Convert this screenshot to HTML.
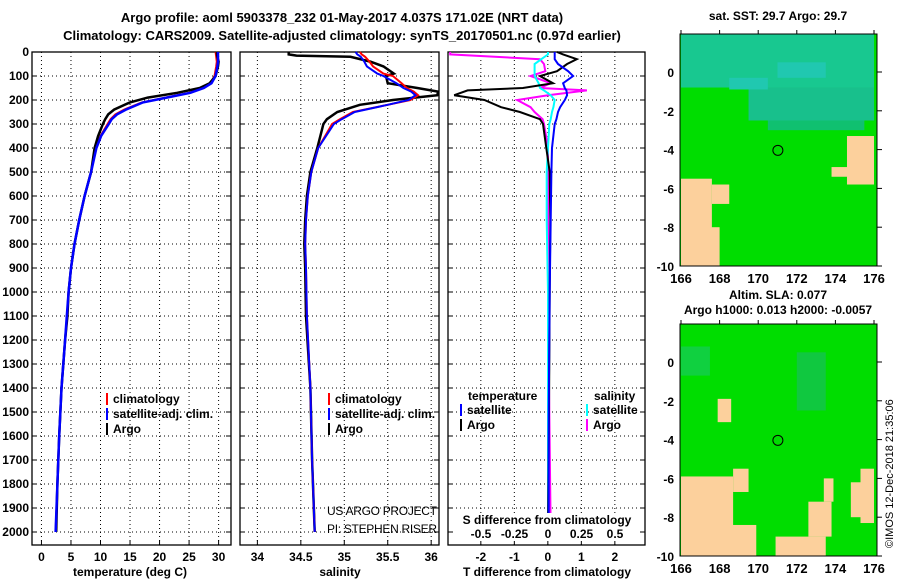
<!DOCTYPE html>
<html><head><meta charset="utf-8"><style>
body{margin:0;background:#fff}
svg{display:block;font-family:"Liberation Sans",sans-serif}
</style></head><body>
<svg id="c" width="900" height="580" viewBox="0 0 900 580">
<text x="342" y="22" text-anchor="middle" font-weight="bold" font-size="13">Argo profile: aoml 5903378_232 01-May-2017 4.037S 171.02E (NRT data)</text>
<text x="342" y="40" text-anchor="middle" font-weight="bold" font-size="13">Climatology: CARS2009. Satellite-adjusted climatology: synTS_20170501.nc (0.97d earlier)</text>
<g id="g"></g>
</svg>
<script>
// depth levels (dbar)
const depthT=[0,20,40,60,100,130,150,170,190,210,240,260,280,300,350,400,500,600,700,800,900,1000,1100,1200,1400,1600,1800,2000];
const tempArgo=[29.7,29.8,30.0,29.9,29.5,28.5,26.8,23,18,15,12.3,11.3,10.8,10.4,9.6,9.0,8.4,7.3,6.4,5.6,5.0,4.6,4.4,4.0,3.4,3.0,2.7,2.5];
const tempClim=[29.5,29.6,29.7,29.6,29.3,28.6,27.3,25,21,17,14,12.5,11.7,11.2,10.0,9.2,8.4,7.3,6.4,5.6,5.0,4.6,4.4,4.0,3.4,3.0,2.7,2.4];
const tempSat=[29.9,29.9,29.9,29.8,29.5,28.8,27.5,25.2,21.2,17.2,14.3,12.8,11.9,11.4,10.1,9.3,8.4,7.3,6.4,5.6,5.0,4.6,4.3,4.0,3.4,3.0,2.7,2.4];
const depthS=[0,10,15,20,40,60,90,100,130,150,165,180,200,220,250,280,300,400,500,600,700,800,900,1100,1400,1700,2000];
const salArgo=[34.36,34.36,34.45,35.07,35.3,35.45,35.57,35.48,35.5,35.84,36.08,36.07,35.56,35.18,34.92,34.8,34.76,34.69,34.61,34.57,34.55,34.54,34.55,34.56,34.61,34.63,34.66];
const salClim=[35.18,35.2,35.22,35.24,35.29,35.33,35.45,35.56,35.66,35.72,35.8,35.85,35.76,35.5,35.1,34.95,34.86,34.7,34.62,34.58,34.56,34.55,34.56,34.57,34.61,34.63,34.66];
const salSat=[35.13,35.15,35.17,35.19,35.23,35.26,35.38,35.45,35.6,35.68,35.77,35.82,35.74,35.5,35.12,34.97,34.88,34.7,34.62,34.58,34.56,34.55,34.56,34.57,34.61,34.63,34.66];
const depthD=[0,10,30,50,80,100,130,150,160,180,200,230,250,280,300,400,500,700,1000,1500,2000];
const dTArgo=[0.27,0.45,0.86,0.57,0.27,-0.24,0.15,-0.75,-2.4,-2.8,-1.9,-1.4,-0.84,-0.24,-0.15,-0.05,0.05,0.07,0.05,0.03,0.0];
const dTSat=[0.2,0.2,0.2,0.3,0.6,0.75,0.45,0.5,0.55,0.57,0.5,0.36,0.3,0.25,0.2,0.12,0.1,0.08,0.05,0.02,0.02];
const dSArgo=[-0.73,-0.73,-0.06,-0.03,-0.02,-0.13,0.02,-0.06,0.29,0.0,-0.23,-0.13,-0.1,-0.04,-0.03,0.0,0.0,0.0,0.0,0.01,0.02];
const dSSat=[0.0,0.0,-0.05,-0.1,-0.1,-0.1,-0.07,-0.06,-0.03,0.02,0.05,0.04,0.03,0.02,0.01,0.0,-0.01,-0.01,0.0,0.0,0.0];
const depthTicks=[0,100,200,300,400,500,600,700,800,900,1000,1100,1200,1300,1400,1500,1600,1700,1800,1900,2000];
const tTicks=[0,5,10,15,20,25,30];
const sTicks=[34,34.5,35,35.5,36];
const dTTicks=[-2,-1,0,1,2];
const dSTicks=[-0.5,-0.25,0,0.25,0.5];
const latTicks=[0,-2,-4,-6,-8,-10];
const lonTicks=[166,168,170,172,174,176];

const NS='http://www.w3.org/2000/svg';
const G=document.getElementById('g');
function el(t,a,p){const e=document.createElementNS(NS,t);for(const k in a)e.setAttribute(k,a[k]);(p||G).appendChild(e);return e;}
const y=d=>52+d*0.24;
const PT={x0:32,x1:231,v0:-1.6,v1:32.1}, PS={x0:240,x1:439,v0:33.8,v1:36.09}, PD={x0:448,x1:645,v0:-2.98,v1:2.9};
const sx=(P,v)=>P.x0+(v-P.v0)/(P.v1-P.v0)*(P.x1-P.x0);
const sxS=v=>548+134*v;
const TOP=52,BOT=545;

function panel(P,name,ticks,fmt,xlabel,lx){
  const g=el('g',{});
  
  
  ticks.forEach(t=>{const x=sx(P,t);
    el('line',{x1:x,x2:x,y1:TOP,y2:BOT,stroke:'#000','stroke-dasharray':'1 3','stroke-width':1},g);
    el('line',{x1:x,x2:x,y1:BOT,y2:BOT-5,stroke:'#000'},g);
    if(fmt){const tx=el('text',{x:x,y:561,'text-anchor':'middle','font-size':12,'font-weight':'bold'},g);tx.textContent=fmt(t);}
  });
  depthTicks.forEach(d=>{
    el('line',{x1:P.x0,x2:P.x1,y1:y(d),y2:y(d),stroke:'#000','stroke-dasharray':'1 3'},g);
    el('line',{x1:P.x0,x2:P.x0+5,y1:y(d),y2:y(d),stroke:'#000'},g);
    el('line',{x1:P.x1,x2:P.x1-5,y1:y(d),y2:y(d),stroke:'#000'},g);
  });
  el('rect',{x:P.x0,y:TOP,width:P.x1-P.x0,height:BOT-TOP,fill:'none',stroke:'#000','stroke-width':1.3},g);
  const t=el('text',{x:lx,y:576,'text-anchor':'middle','font-size':12,'font-weight':'bold'},g);
  
  
  t.textContent=xlabel;
  return g;
}
function line(xs,ds,f,col,w,name,g){
  const pts=xs.map((v,i)=>f(v).toFixed(1)+','+y(ds[i]).toFixed(1)).join(' ');
  const p=el('polyline',{points:pts,fill:'none',stroke:col,'stroke-width':w},g);
  
  
}
function legend(g,x,y0,items){
  items.forEach((it,i)=>{
    el('rect',{x:x,y:y0+i*15-10,width:2,height:12,fill:it[1]},g);
    const t=el('text',{x:x+7,y:y0+i*15,'font-size':12,'font-weight':'bold'},g);
    
    
    t.textContent=it[0];
  });
}
depthTicks.forEach(d=>{const t=el('text',{x:29,y:y(d)+4,'text-anchor':'end','font-size':12,'font-weight':'bold'});
  
  
  t.textContent=d;});

const g1=panel(PT,'temperature-panel',tTicks,v=>v,'temperature (deg C)',130);
line(tempClim,depthT,v=>sx(PT,v),'#f00',2,'temp-climatology-line',g1);
line(tempArgo,depthT,v=>sx(PT,v),'#000',2.5,'temp-argo-line',g1);
line(tempSat,depthT,v=>sx(PT,v),'#00f',2.5,'temp-satellite-line',g1);
legend(g1,106,403,[['climatology','#f00'],['satellite-adj. clim.','#00f'],['Argo','#000']]);

const g2=panel(PS,'salinity-panel',sTicks,v=>v,'salinity',340);
line(salArgo,depthS,v=>sx(PS,v),'#000',2.5,'sal-argo-line',g2);
line(salClim,depthS,v=>sx(PS,v),'#f00',2,'sal-climatology-line',g2);
line(salSat,depthS,v=>sx(PS,v),'#00f',2,'sal-satellite-line',g2);
legend(g2,328,403,[['climatology','#f00'],['satellite-adj. clim.','#00f'],['Argo','#000']]);
[['US ARGO PROJECT',515],['PI: STEPHEN RISER',533]].forEach(a=>{const t=el('text',{x:327,y:a[1],'font-size':12,'textLength':110,fill:'#000'},g2);t.textContent=a[0];});

const g3=panel(PD,'difference-panel',dTTicks,v=>v,'T difference from climatology',547);
line(dSArgo,depthD,v=>sxS(v),'#f0f',2,'s-diff-argo-line',g3);
line(dSSat,depthD,v=>sxS(v),'#0ff',2,'s-diff-satellite-line',g3);
line(dTArgo,depthD,v=>548+33.5*v,'#000',2,'t-diff-argo-line',g3);
line(dTSat,depthD,v=>548+33.5*v,'#00f',2,'t-diff-satellite-line',g3);
el('rect',{x:455,y:513,width:185,height:28,fill:'#fff'},g3);
{const t=el('text',{x:547,y:524,'text-anchor':'middle','font-size':12,'font-weight':'bold'},g3);t.textContent='S difference from climatology';}
dSTicks.forEach(v=>{const t=el('text',{x:sxS(v),y:538,'text-anchor':'middle','font-size':12,'font-weight':'bold'},g3);t.textContent=v;});
legend(g3,460,414,[['satellite','#00f'],['Argo','#000']]);
legend(g3,586,414,[['satellite','#0ff'],['Argo','#f0f']]);
{const t=el('text',{x:468,y:400,'font-size':12,'font-weight':'bold'},g3);t.textContent='temperature';
 const t2=el('text',{x:594,y:400,'font-size':12,'font-weight':'bold'},g3);t2.textContent='salinity';}

function map(name,top,lat0y,titleY,title,cells){
  const g=el('g',{});
  
  
  const lx=lon=>681+(lon-166)*19.3, ly=lat=>lat0y-lat*19.4;
  el('rect',{x:680,y:top,width:197,height:ly(-10)-top,fill:'#00dd00'},g);
  cells.forEach(c=>{
    const x1=lx(c[0]),x2=lx(c[1]),y1=Math.max(top,ly(c[2])),y2=ly(c[3]);
    el('rect',{x:x1,y:y1,width:x2-x1,height:y2-y1,fill:c[4]},g);
  });
  el('circle',{cx:lx(171.02),cy:ly(-4.037),r:5,fill:'none',stroke:'#000'},g);
  el('rect',{x:680,y:top,width:197,height:ly(-10)-top,fill:'none',stroke:'#000'},g);
  latTicks.forEach(l=>{const t=el('text',{x:674,y:ly(l)+5,'text-anchor':'end','font-size':12,'font-weight':'bold'},g);t.textContent=l;
    el('line',{x1:877,x2:882,y1:ly(l),y2:ly(l),stroke:'#000'},g);});
  lonTicks.forEach(l=>{const t=el('text',{x:lx(l),y:ly(-10)+17,'text-anchor':'middle','font-size':13,'font-weight':'bold'},g);t.textContent=l;
    el('line',{x1:lx(l),x2:lx(l),y1:top,y2:top-4,stroke:'#000'},g);});
  title.forEach((s,i)=>{const t=el('text',{x:778,y:titleY+i*15,'text-anchor':'middle','font-size':12,'font-weight':'bold'},g);t.textContent=s;});
}
map('sst-map',34,72,20,['sat. SST: 29.7 Argo: 29.7'],[
 [166,176,2.1,-0.8,'#18c890'],[169.5,176,-0.8,-2.5,'#18c08c'],[170.5,175.5,-2.5,-3.0,'#10c070'],
 [171,173.5,0.5,-0.3,'#20c8b0'],[168.5,170.5,-0.3,-0.9,'#20c8b0'],
 [166,167.6,-5.5,-10,'#fcd09c'],[167.6,168.5,-5.8,-6.8,'#fcd09c'],[166.5,168,-8,-10,'#fcd09c'],[174.6,176,-3.3,-5.8,'#fcd09c'],[173.8,174.8,-4.9,-5.4,'#fcd09c']
]);
map('sla-map',324,362,299,['Altim. SLA: 0.077','Argo h1000: 0.013 h2000: -0.0057'],[
 [172,173.5,0.5,-2.5,'#10c840'],[166,167.5,0.8,-0.7,'#10d040'],
 [167.9,168.6,-1.9,-3.1,'#fcd09c'],
 [166,168.7,-5.9,-10,'#fcd09c'],[168.7,169.5,-5.5,-6.7,'#fcd09c'],[166,169.9,-8.4,-10,'#fcd09c'],
 [170.9,173.5,-9.0,-10,'#fcd09c'],[172.6,173.8,-7.2,-9.0,'#fcd09c'],[173.4,173.9,-6.0,-7.2,'#fcd09c'],
 [175.3,176,-5.5,-8.3,'#fcd09c'],[174.8,175.4,-6.2,-8.0,'#fcd09c']
]);
{const t=el('text',{x:0,y:0,'font-size':11,transform:'translate(893,548) rotate(-90)'});


t.textContent='©IMOS 12-Dec-2018 21:35:06';}
</script>
</body></html>
